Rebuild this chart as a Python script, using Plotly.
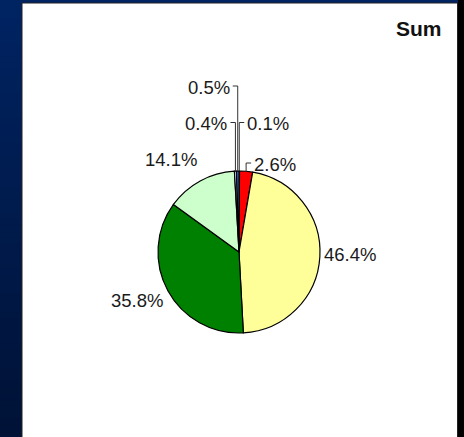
import math
import plotly.graph_objects as go

# Share of the total per segment, clockwise from 12 o'clock
shares = [0.1, 2.6, 46.4, 35.8, 14.1, 0.4, 0.5]
slice_colors = ["#D8D8F0", "#FF0000", "#FFFF99", "#008000", "#CCFFCC", "#EEF6FF", "#3366CC"]
pct_text = [f"{v:.1f}%" for v in shares]
chart_title = "Sum"

# Canvas and pie geometry (pixels)
W, H = 464, 437
CX, CY, R = 239, 252, 81
FONT = "Arial, 'Liberation Sans', sans-serif"

# Label placement styles
radial_style = {2: (111.5, 0, -4), 3: (113, -2.5, -6), 4: (105, -18, 0)}   # dist, dx, dy
leader_style = {0: (122.5, 1), 1: (163, 1), 5: (122.5, -1), 6: (86, -1)}   # label y, side


def px(x):
    return x / W


def py(y):
    return 1 - y / H


def polar(theta_deg, r):
    t = math.radians(theta_deg)
    return CX + r * math.sin(t), CY - r * math.cos(t)


shapes = []
# Navy gradient backdrop (bands overlap slightly to avoid seams)
n_bands = 70
top_c, bot_c = (0, 35, 98), (0, 18, 54)
band_h = H / n_bands
for i in range(n_bands):
    t = i / (n_bands - 1)
    c = tuple(round(a + (b - a) * t) for a, b in zip(top_c, bot_c))
    shapes.append(dict(type="rect", xref="paper", yref="paper",
                       x0=0, x1=px(458), y0=py(band_h * (i + 1) + 2), y1=py(band_h * i),
                       fillcolor=f"rgb{c}", line_width=0, layer="below"))
# White chart panel
shapes.append(dict(type="rect", xref="paper", yref="paper",
                   x0=px(22), x1=px(457.5), y0=py(H + 5), y1=py(3),
                   fillcolor="white", line=dict(color="#222222", width=1), layer="below"))

fig = go.Figure(go.Pie(
    values=shares,
    sort=False,
    direction="clockwise",
    rotation=0,
    textinfo="none",
    hoverinfo="skip",
    marker=dict(colors=slice_colors, line=dict(color="black", width=1.2)),
    domain=dict(x=[px(CX - R), px(CX + R)], y=[py(CY + R), py(CY - R)]),
    showlegend=False,
))

annotations = []
total = sum(shares)
cum = 0.0
for i, v in enumerate(shares):
    mid = (cum + v / 2) / total * 360
    cum += v
    if i in radial_style:
        dist, dx, dy = radial_style[i]
        x, y = polar(mid, dist)
        annotations.append(dict(x=px(x + dx), y=py(y + dy), xref="paper", yref="paper",
                                text=pct_text[i], showarrow=False,
                                xanchor="center", yanchor="middle",
                                font=dict(family=FONT, size=18.5, color="#1a1a1a")))
    else:
        ly, side = leader_style[i]
        ax, ay = polar(mid, R)
        hx = ax + side * 5
        shapes.append(dict(type="path", xref="paper", yref="paper",
                           path=f"M {px(ax)} {py(ay)} L {px(ax)} {py(ly)} L {px(hx)} {py(ly)}",
                           line=dict(color="#333333", width=1), layer="above"))
        annotations.append(dict(x=px(hx + side * 1), y=py(ly + 1.5), xref="paper", yref="paper",
                                text=pct_text[i], showarrow=False,
                                xanchor="left" if side > 0 else "right", yanchor="middle",
                                font=dict(family=FONT, size=18.5, color="#1a1a1a")))

annotations.append(dict(x=px(444), y=py(28), xref="paper", yref="paper",
                        text=f"<b>{chart_title}</b>", showarrow=False,
                        xanchor="right", yanchor="middle",
                        font=dict(family=FONT, size=21, color="#111111")))

fig.update_layout(
    width=W, height=H,
    margin=dict(l=0, r=0, t=0, b=0),
    paper_bgcolor="black",
    plot_bgcolor="black",
    shapes=shapes,
    annotations=annotations,
)

fig.write_html("out.html")
